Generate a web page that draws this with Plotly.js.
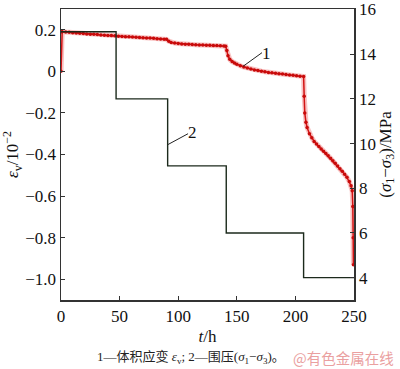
<!DOCTYPE html>
<html>
<head>
<meta charset="utf-8">
<script src="https://cdn.plot.ly/plotly-3.0.1.min.js"></script>
<style>html,body{margin:0;padding:0;background:#fff;}#chart{width:400px;height:369px;}</style>
</head>
<body>
<div id="chart"></div>
<script>
// Volumetric strain curve (curve 1), t in hours, strain in 10^-2
const strainT = [0, 0.5, 1, 4, 7, 10, 13, 16, 19, 22, 25, 28, 31, 34, 37, 40, 43, 46,
  49, 52, 55, 58, 61, 64, 67, 70, 73, 76, 79, 82, 85, 88, 90,
  92, 94, 97, 100, 103, 106, 109, 112, 115, 118, 121, 124, 127, 130, 133, 136, 139, 140.5,
  141.5, 142.5, 144, 146, 148, 150, 153, 156, 159, 162, 165, 168, 171, 174, 177, 180, 183, 186, 189, 192, 195, 198, 201, 204, 207,
  207.5, 208, 209, 210, 212, 214, 216, 218, 220, 222, 224, 226, 228, 230, 232, 234, 236, 238, 240, 242, 244, 246, 247.5, 248.5, 249, 249.3, 249.5];
const strainV = [0, 0.19, 0.191, 0.189, 0.188, 0.186, 0.185, 0.183, 0.182, 0.180, 0.179, 0.178, 0.177, 0.175, 0.174, 0.173, 0.172, 0.171,
  0.169, 0.168, 0.167, 0.166, 0.165, 0.164, 0.163, 0.162, 0.161, 0.160, 0.159, 0.157, 0.156, 0.155, 0.154,
  0.145, 0.139, 0.136, 0.134, 0.132, 0.131, 0.130, 0.129, 0.128, 0.127, 0.127, 0.126, 0.125, 0.124, 0.124, 0.123, 0.122, 0.121,
  0.10, 0.075, 0.058, 0.047, 0.040, 0.034, 0.027, 0.021, 0.016, 0.011, 0.007, 0.004, 0.001, -0.002, -0.005, -0.007, -0.009, -0.011, -0.013, -0.015, -0.017, -0.019, -0.021, -0.023, -0.025,
  -0.12, -0.2, -0.245, -0.27, -0.30, -0.32, -0.337, -0.35, -0.362, -0.373, -0.384, -0.395, -0.406, -0.418, -0.43, -0.442, -0.455, -0.468, -0.481, -0.495, -0.51, -0.53, -0.55, -0.575, -0.65, -0.8, -0.93];

// Confining pressure difference (curve 2), step levels in MPa
const stressT = [0, 47, 91, 141, 207, 250];
const stressV = [15, 12, 9, 6, 4, 4];

// Tick labels
const xTicks = [0, 50, 100, 150, 200, 250];
const yLeftTicks = [-1.0, -0.8, -0.6, -0.4, -0.2, 0, 0.2];
const yLeftText = ['\u22121.0', '\u22120.8', '\u22120.6', '\u22120.4', '\u22120.2', '0', '0.2'];
const yRightTicks = [4, 6, 8, 10, 12, 14, 16];

const serif = 'Liberation Serif, Times New Roman, serif';
const axisColor = '#333';
const fs = 17;

const traces = [
  {x: stressT, y: stressV, yaxis: 'y2', mode: 'lines', line: {shape: 'hv', color: '#1c2a1c', width: 1.4}, hoverinfo: 'none'},
  {x: strainT, y: strainV, mode: 'lines', line: {color: 'rgba(235,80,80,0.35)', width: 5}, hoverinfo: 'none'},
  {x: strainT, y: strainV, mode: 'lines+markers', line: {color: '#d21414', width: 1.5}, marker: {color: '#c80a0a', size: 3.5}, hoverinfo: 'none'}
];

const layout = {
  width: 400, height: 369,
  margin: {l: 61, r: 46, t: 9, b: 69},
  paper_bgcolor: '#fff', plot_bgcolor: '#fff',
  showlegend: false,
  font: {family: serif, size: fs, color: '#111'},
  xaxis: {
    range: [0, 250], tickvals: xTicks, ticks: 'inside', ticklen: 4, tickcolor: axisColor,
    showline: true, linecolor: axisColor, linewidth: 1.5, mirror: true, showgrid: false, zeroline: false,
    tickfont: {family: serif, size: fs}, title: {text: '<i>t</i>/h', font: {family: serif, size: fs}, standoff: 5}
  },
  yaxis: {
    range: [-1.1, 0.3], tickvals: yLeftTicks, ticktext: yLeftText, ticks: 'inside', ticklen: 4, tickcolor: axisColor,
    showline: true, linecolor: axisColor, linewidth: 1.5, showgrid: false, zeroline: false,
    tickfont: {family: serif, size: fs},
    title: {text: '<i>ε</i><sub>v</sub>/10<sup>−2</sup>', font: {family: serif, size: fs}, standoff: 4}
  },
  yaxis2: {
    overlaying: 'y', side: 'right', range: [3, 16.02], tickvals: yRightTicks, ticks: 'inside', ticklen: 4, tickcolor: axisColor,
    showline: true, linecolor: axisColor, linewidth: 1.5, showgrid: false, zeroline: false,
    ticklabeloverflow: 'allow',
    tickfont: {family: serif, size: fs},
    title: {text: '(<i>σ</i><sub>1</sub>−<i>σ</i><sub>3</sub>)/MPa', font: {family: serif, size: fs}, standoff: 3}
  },
  shapes: [
    {type: 'line', xref: 'x', yref: 'y', x0: 155.3, y0: 0.024, x1: 171.5, y1: 0.09, line: {color: '#222', width: 1}},
    {type: 'line', xref: 'x', yref: 'y', x0: 91.3, y0: -0.352, x1: 108.4, y1: -0.30, line: {color: '#222', width: 1}}
  ],
  annotations: [
    {xref: 'x', yref: 'y', x: 175.5, y: 0.088, text: '1', showarrow: false, font: {family: serif, size: fs, color: '#111'}},
    {xref: 'x', yref: 'y', x: 112.6, y: -0.293, text: '2', showarrow: false, font: {family: serif, size: fs, color: '#111'}},
    {xref: 'paper', yref: 'paper', x: 0.115, y: -0.198, xanchor: 'left', yanchor: 'middle', showarrow: false,
      text: '1—体积应变 <i>ε</i><sub>v</sub>; 2—围压(<i>σ</i><sub>1</sub>−<i>σ</i><sub>3</sub>)。',
      font: {family: 'Liberation Serif, Noto Sans CJK SC, serif', size: 13, color: '#222'}},
    {xref: 'paper', yref: 'paper', x: 1.145, y: -0.198, xanchor: 'right', yanchor: 'middle', showarrow: false,
      text: '@有色金属在线', font: {family: 'Noto Sans CJK SC, sans-serif', size: 14.5, color: '#eaa0a0'}}
  ]
};

Plotly.newPlot('chart', traces, layout, {staticPlot: true, displayModeBar: false});
</script>
</body>
</html>
